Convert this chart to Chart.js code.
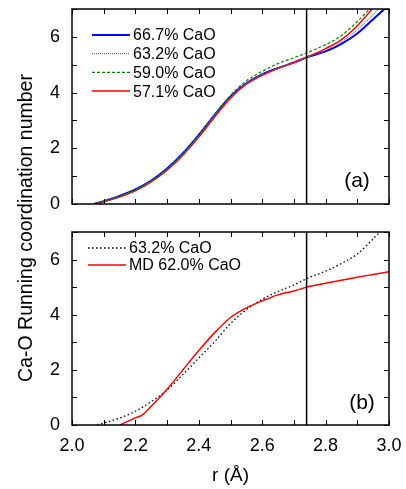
<!DOCTYPE html>
<html>
<head>
<meta charset="utf-8">
<script src="https://cdn.jsdelivr.net/npm/chart.js@4.4.1/dist/chart.umd.min.js"></script>
<style>
    html, body { margin: 0; padding: 0; background: #fff; }
    #wrap { position: relative; width: 406px; height: 489px; }
    #wrap canvas { position: absolute; left: 0; top: 0; }
</style>
</head>
<body>
<div id="wrap">
    <canvas id="chart-b" width="406" height="489"></canvas>
    <canvas id="chart-a" width="406" height="489"></canvas>
</div>
<script>
// Panel (a): running coordination number for four glass compositions
const rTop = [2.07, 2.10, 2.15, 2.20, 2.25, 2.30, 2.35, 2.40, 2.45, 2.50, 2.55, 2.60, 2.65, 2.70, 2.75, 2.80, 2.85, 2.90, 2.95, 3.00];
const cn667 = [0, 0.10, 0.29, 0.52, 0.84, 1.27, 1.82, 2.48, 3.20, 3.86, 4.33, 4.65, 4.88, 5.08, 5.30, 5.48, 5.75, 6.12, 6.63, 7.15];
const cn632 = [0, 0.09, 0.27, 0.50, 0.82, 1.24, 1.78, 2.44, 3.16, 3.83, 4.32, 4.64, 4.88, 5.08, 5.31, 5.52, 5.82, 6.25, 6.80, 7.40];
const cn590 = [0, 0.09, 0.27, 0.50, 0.83, 1.26, 1.81, 2.47, 3.21, 3.90, 4.42, 4.76, 5.04, 5.25, 5.47, 5.72, 6.05, 6.55, 7.15, 7.90];
const cn571 = [0, 0.08, 0.25, 0.47, 0.79, 1.21, 1.75, 2.40, 3.12, 3.80, 4.30, 4.62, 4.87, 5.08, 5.32, 5.58, 5.90, 6.40, 7.05, 7.80];

// Panel (b): experiment vs MD
const rExp = [2.08, 2.10, 2.15, 2.20, 2.25, 2.30, 2.35, 2.40, 2.45, 2.50, 2.55, 2.60, 2.65, 2.70, 2.75, 2.80, 2.85, 2.90, 2.95, 3.00];
const cnExp = [0, 0.07, 0.25, 0.50, 0.85, 1.27, 1.83, 2.43, 3.02, 3.68, 4.18, 4.56, 4.84, 5.08, 5.36, 5.58, 5.86, 6.20, 6.75, 7.35];
const rMD = [2.15, 2.20, 2.22, 2.25, 2.30, 2.35, 2.40, 2.45, 2.50, 2.55, 2.60, 2.65, 2.70, 2.75, 2.80, 2.85, 2.90, 2.95, 3.00];
const cnMD = [0, 0.26, 0.35, 0.68, 1.30, 2.00, 2.70, 3.35, 3.90, 4.25, 4.50, 4.72, 4.86, 5.03, 5.14, 5.25, 5.36, 5.46, 5.56];

const cutoffR = 2.74;
const xTicks = [2.0, 2.2, 2.4, 2.6, 2.8, 3.0];
const yTicks = [0, 2, 4, 6];

const FONT = '"Liberation Sans", Arial, sans-serif';

function pts(xs, ys) {
    return xs.map((x, i) => ({ x: x, y: ys[i] }));
}

function cutLine() {
    return {
        data: [{ x: cutoffR, y: 0 }, { x: cutoffR, y: 7 }],
        borderColor: '#000',
        borderWidth: 1.5,
        pointRadius: 0,
        order: 0
    };
}

// fixed box size, no label-overflow padding, so both panels line up
function fixBox(size) {
    return s => {
        if (s.isHorizontal()) s.height = size; else s.width = size;
        s.paddingTop = 0; s.paddingBottom = 0;
        s.paddingLeft = 0; s.paddingRight = 0;
    };
}

// frame with inward ticks, in-plot legend and panel tag
const framePlugin = {
    id: 'frame',
    afterDatasetsDraw(chart, args, opts) {
        const { ctx, chartArea: a, scales: { x, y } } = chart;
        ctx.save();
        ctx.strokeStyle = '#000';
        ctx.lineWidth = 1.5;
        ctx.strokeRect(a.left, a.top, a.right - a.left, a.bottom - a.top);

        ctx.lineWidth = 1;
        ctx.beginPath();
        for (let i = 0; i <= 10; i++) {
            const px = Math.round(x.getPixelForValue(2 + i * 0.1)) + 0.5;
            ctx.moveTo(px, a.bottom); ctx.lineTo(px, a.bottom - 5);
            ctx.moveTo(px, a.top); ctx.lineTo(px, a.top + 5);
        }
        for (let v = 0; v <= 7; v++) {
            const py = Math.round(y.getPixelForValue(v)) + 0.5;
            ctx.moveTo(a.left, py); ctx.lineTo(a.left + 5, py);
            ctx.moveTo(a.right, py); ctx.lineTo(a.right - 5, py);
        }
        ctx.stroke();

        // legend
        ctx.font = '16px ' + FONT;
        ctx.textBaseline = 'middle';
        ctx.textAlign = 'left';
        ctx.fillStyle = '#000';
        let row = 0;
        chart.data.datasets.forEach(ds => {
            if (!ds.label) return;
            const ly = opts.legendY + row * opts.legendGap;
            ctx.save();
            ctx.strokeStyle = ds.borderColor;
            ctx.lineWidth = ds.borderWidth;
            ctx.setLineDash(ds.borderDash || []);
            ctx.beginPath();
            ctx.moveTo(opts.legendX, ly);
            ctx.lineTo(opts.legendX + opts.lineLen, ly);
            ctx.stroke();
            ctx.restore();
            ctx.fillText(ds.label, opts.legendX + opts.lineLen + 3, ly + 1);
            row++;
        });

        // panel tag
        ctx.font = '21px ' + FONT;
        ctx.textAlign = 'center';
        ctx.fillText(opts.tag, opts.tagX, opts.tagY);

        if (opts.yTitle) {
            ctx.save();
            ctx.translate(27, 228);
            ctx.rotate(-Math.PI / 2);
            ctx.font = '19.5px ' + FONT;
            ctx.textAlign = 'center';
            ctx.fillText(opts.yTitle, 0, 0);
            ctx.restore();
        }
        ctx.restore();
    }
};

function yScale() {
    return {
        min: 0,
        max: 7,
        afterFit: fixBox(72),
        grid: { display: false, drawTicks: false },
        border: { display: false },
        ticks: {
            stepSize: 2,
            padding: 12,
            color: '#000',
            font: { family: FONT, size: 18 },
            callback: v => yTicks.includes(v) ? v : ''
        }
    };
}

const lineDefaults = { pointRadius: 0, fill: false, cubicInterpolationMode: 'monotone', clip: 0 };

new Chart(document.getElementById('chart-a'), {
    type: 'line',
    data: {
        datasets: [
            { ...lineDefaults, label: '66.7% CaO', data: pts(rTop, cn667), borderColor: '#0000ff', borderWidth: 2, order: 4 },
            { ...lineDefaults, label: '63.2% CaO', data: pts(rTop, cn632), borderColor: '#707070', borderWidth: 1.2, borderDash: [1, 1], order: 2 },
            { ...lineDefaults, label: '59.0% CaO', data: pts(rTop, cn590), borderColor: '#008000', borderWidth: 1.2, borderDash: [3, 2], order: 1 },
            { ...lineDefaults, label: '57.1% CaO', data: pts(rTop, cn571), borderColor: '#ff0000', borderWidth: 1.5, order: 3 },
            cutLine()
        ]
    },
    options: {
        responsive: false,
        animation: false,
        events: [],
        layout: { padding: { left: 0, right: 17, top: 9, bottom: 285 } },
        scales: {
            x: { type: 'linear', min: 2, max: 3, display: false },
            y: yScale()
        },
        plugins: {
            legend: { display: false },
            tooltip: { enabled: false },
            frame: {
                legendX: 92, legendY: 35, legendGap: 18.7, lineLen: 38,
                tag: '(a)', tagX: 357, tagY: 181,
                yTitle: 'Ca-O Running coordination number'
            }
        }
    },
    plugins: [framePlugin]
});

new Chart(document.getElementById('chart-b'), {
    type: 'line',
    data: {
        datasets: [
            { ...lineDefaults, label: '63.2% CaO', data: pts(rExp, cnExp), borderColor: '#000', borderWidth: 1.3, borderDash: [1.5, 2.5], order: 2 },
            { ...lineDefaults, label: 'MD 62.0% CaO', data: pts(rMD, cnMD), borderColor: '#ff0000', borderWidth: 1.5, order: 1 },
            cutLine()
        ]
    },
    options: {
        responsive: false,
        animation: false,
        events: [],
        layout: { padding: { left: 0, right: 17, top: 232, bottom: 0 } },
        scales: {
            x: {
                type: 'linear',
                min: 2,
                max: 3,
                afterFit: fixBox(64),
                grid: { display: false, drawTicks: false },
                border: { display: false },
                ticks: {
                    stepSize: 0.2,
                    padding: 10,
                    maxRotation: 0,
                    color: '#000',
                    font: { family: FONT, size: 18 },
                    callback: v => xTicks.some(t => Math.abs(t - v) < 1e-6) ? v.toFixed(1) : ''
                },
                title: {
                    display: true,
                    text: 'r (Å)',
                    color: '#000',
                    font: { family: FONT, size: 19 },
                    padding: { top: 0, bottom: 2 }
                }
            },
            y: yScale()
        },
        plugins: {
            legend: { display: false },
            tooltip: { enabled: false },
            frame: {
                legendX: 88, legendY: 248, legendGap: 17, lineLen: 38,
                tag: '(b)', tagX: 362, tagY: 403
            }
        }
    },
    plugins: [framePlugin]
});
</script>
</body>
</html>
